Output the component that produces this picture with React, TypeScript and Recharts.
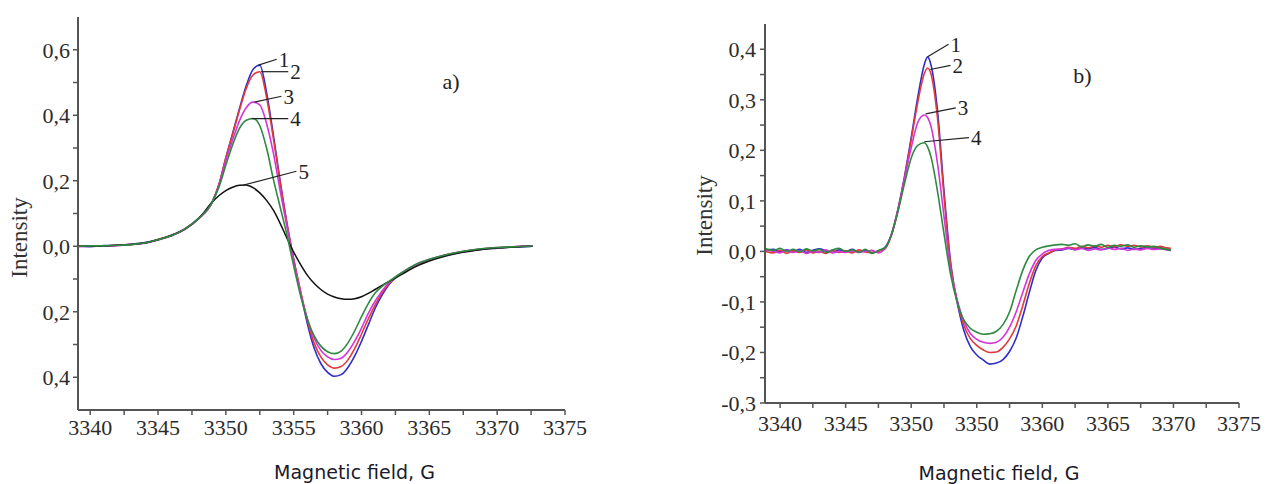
import React from 'react';
import { LineChart, Line, XAxis, YAxis, ReferenceLine, ReferenceDot, Label } from 'recharts';

// ---------- Panel a data ----------
const fieldA = [3339.1, 3340, 3341, 3342, 3343, 3344, 3345, 3346, 3347, 3348, 3349, 3349.5, 3350, 3350.5, 3351, 3351.5, 3352, 3352.5, 3353, 3353.5, 3354, 3354.5, 3355, 3355.5, 3356, 3356.5, 3357, 3357.5, 3358, 3358.5, 3359, 3359.5, 3360, 3360.5, 3361, 3361.5, 3362, 3363, 3364, 3365, 3366, 3367, 3368, 3369, 3370, 3371, 3372, 3372.6];
const a1 = [0.001, -0.001, 0.002, 0.003, 0.006, 0.011, 0.02, 0.034, 0.054, 0.086, 0.136, 0.19, 0.27, 0.345, 0.42, 0.49, 0.54, 0.553, 0.47, 0.34, 0.2, 0.07, -0.04, -0.14, -0.235, -0.31, -0.358, -0.385, -0.397, -0.392, -0.37, -0.335, -0.29, -0.24, -0.19, -0.15, -0.118, -0.082, -0.058, -0.042, -0.03, -0.021, -0.014, -0.009, -0.006, -0.003, -0.001, 0.0];
const a2 = [0.0, 0.001, 0.0, 0.004, 0.005, 0.01, 0.021, 0.033, 0.053, 0.085, 0.135, 0.19, 0.27, 0.342, 0.415, 0.482, 0.523, 0.533, 0.455, 0.33, 0.195, 0.07, -0.04, -0.135, -0.225, -0.295, -0.338, -0.362, -0.372, -0.367, -0.347, -0.312, -0.268, -0.222, -0.18, -0.143, -0.115, -0.081, -0.057, -0.041, -0.029, -0.02, -0.013, -0.008, -0.005, -0.002, 0.0, 0.001];
const a3 = [-0.001, 0.0, 0.001, 0.002, 0.006, 0.009, 0.019, 0.032, 0.052, 0.084, 0.134, 0.188, 0.262, 0.325, 0.383, 0.423, 0.44, 0.432, 0.375, 0.285, 0.17, 0.06, -0.045, -0.14, -0.22, -0.28, -0.318, -0.338, -0.346, -0.342, -0.322, -0.29, -0.25, -0.205, -0.168, -0.137, -0.112, -0.08, -0.056, -0.04, -0.028, -0.019, -0.012, -0.008, -0.004, -0.002, 0.001, 0.0];
const a4 = [0.0, 0.001, 0.001, 0.003, 0.005, 0.01, 0.02, 0.033, 0.053, 0.085, 0.135, 0.182, 0.248, 0.31, 0.36, 0.385, 0.39, 0.368, 0.3, 0.205, 0.12, 0.035, -0.06, -0.15, -0.222, -0.273, -0.305, -0.322, -0.328, -0.32, -0.295, -0.258, -0.215, -0.175, -0.143, -0.123, -0.108, -0.08, -0.056, -0.04, -0.028, -0.019, -0.012, -0.007, -0.004, -0.002, 0.0, 0.001];
const a5 = [0.0, 0.0, 0.001, 0.003, 0.005, 0.01, 0.02, 0.033, 0.053, 0.085, 0.135, 0.155, 0.17, 0.18, 0.186, 0.187, 0.179, 0.163, 0.14, 0.11, 0.07, 0.025, -0.018, -0.055, -0.088, -0.113, -0.132, -0.146, -0.155, -0.16, -0.162, -0.16, -0.154, -0.144, -0.132, -0.12, -0.108, -0.085, -0.062, -0.045, -0.032, -0.022, -0.015, -0.009, -0.005, -0.003, -0.001, 0.0];

// ---------- Panel b data ----------
const fieldB = [3338.9, 3339.5, 3340, 3340.5, 3341, 3341.5, 3342, 3342.5, 3343, 3343.5, 3344, 3344.5, 3345, 3345.5, 3346, 3346.5, 3347, 3347.5, 3348, 3348.5, 3349, 3349.5, 3350, 3350.5, 3351, 3351.25, 3351.5, 3352, 3352.5, 3353, 3353.5, 3354, 3354.5, 3355, 3355.5, 3356, 3356.5, 3357, 3357.5, 3358, 3358.5, 3359, 3359.5, 3360, 3360.5, 3361, 3361.5, 3362, 3362.5, 3363, 3363.5, 3364, 3364.5, 3365, 3365.5, 3366, 3366.5, 3367, 3367.5, 3368, 3368.5, 3369, 3369.5, 3369.8];
const b1 = [0.002, 0.004, -0.001, 0.003, 0.0, 0.004, -0.002, 0.002, 0.005, 0.001, -0.002, 0.003, 0.0, 0.004, -0.001, 0.002, -0.003, 0.001, 0.008, 0.035, 0.085, 0.15, 0.225, 0.305, 0.37, 0.385, 0.37, 0.28, 0.12, -0.02, -0.1, -0.155, -0.188, -0.205, -0.215, -0.223, -0.221, -0.214, -0.198, -0.172, -0.13, -0.082, -0.038, -0.013, -0.004, 0.002, 0.003, 0.006, 0.004, 0.007, 0.005, 0.008, 0.004, 0.006, 0.009, 0.005, 0.007, 0.004, 0.006, 0.008, 0.005, 0.007, 0.004, 0.003];
const b2 = [0.0, -0.003, 0.002, -0.004, 0.001, -0.002, 0.003, -0.003, 0.0, -0.004, 0.002, -0.002, 0.001, -0.003, 0.003, -0.001, -0.002, 0.0, 0.005, 0.033, 0.083, 0.147, 0.22, 0.295, 0.352, 0.363, 0.352, 0.265, 0.11, -0.025, -0.098, -0.145, -0.172, -0.186, -0.195, -0.2, -0.199, -0.19, -0.173, -0.148, -0.108, -0.064, -0.028, -0.01, -0.003, 0.003, 0.005, 0.008, 0.006, 0.01, 0.007, 0.011, 0.008, 0.012, 0.009, 0.013, 0.01, 0.012, 0.009, 0.011, 0.008, 0.01, 0.007, 0.006];
const b3 = [0.003, 0.0, -0.003, 0.002, -0.002, 0.001, -0.004, 0.0, -0.002, 0.003, -0.003, 0.0, -0.002, 0.001, -0.002, 0.0, 0.002, -0.003, 0.006, 0.033, 0.082, 0.145, 0.205, 0.255, 0.27, 0.265, 0.248, 0.175, 0.07, -0.035, -0.095, -0.137, -0.162, -0.174, -0.18, -0.182, -0.18, -0.17, -0.15, -0.12, -0.082, -0.045, -0.018, -0.005, 0.002, 0.004, 0.004, 0.007, 0.003, 0.006, 0.002, 0.005, 0.003, 0.007, 0.004, 0.006, 0.002, 0.005, 0.003, 0.006, 0.004, 0.005, 0.003, 0.002];
const b4 = [0.005, 0.002, 0.006, 0.0, 0.004, -0.001, 0.005, 0.001, 0.004, -0.002, 0.003, 0.006, 0.0, 0.003, -0.002, 0.004, -0.004, 0.002, 0.007, 0.033, 0.08, 0.135, 0.185, 0.21, 0.215, 0.207, 0.188, 0.12, 0.035, -0.045, -0.1, -0.135, -0.152, -0.16, -0.164, -0.163, -0.158, -0.145, -0.12, -0.078, -0.038, -0.01, 0.003, 0.008, 0.011, 0.013, 0.014, 0.012, 0.015, 0.009, 0.013, 0.01, 0.014, 0.008, 0.012, 0.01, 0.013, 0.008, 0.011, 0.009, 0.01, 0.006, 0.004, 0.002];

// ---------- Axis ticks & labels ----------
const xTicks = [3340, 3342.5, 3345, 3347.5, 3350, 3352.5, 3355, 3357.5, 3360, 3362.5, 3365, 3367.5, 3370, 3372.5, 3375];
const xMajor = [3340, 3345, 3350, 3355, 3360, 3365, 3370, 3375];
const xLabelsA = ['3340', '3345', '3350', '3355', '3360', '3365', '3370', '3375'];
const xLabelsB = ['3340', '3345', '3350', '3350', '3360', '3365', '3370', '3375'];

const yTicksA = [-0.4, -0.3, -0.2, -0.1, 0, 0.1, 0.2, 0.3, 0.4, 0.5, 0.6];
const yMajorA = [-0.4, -0.2, 0, 0.2, 0.4, 0.6];
const yLabelsA = ['0,4', '0,2', '0,0', '0,2', '0,4', '0,6'];

const yTicksB = [-0.3, -0.25, -0.2, -0.15, -0.1, -0.05, 0, 0.05, 0.1, 0.15, 0.2, 0.25, 0.3, 0.35, 0.4];
const yMajorB = [-0.3, -0.2, -0.1, 0, 0.1, 0.2, 0.3, 0.4];
const yLabelsB = ['-0,3', '-0,2', '-0,1', '0,0', '0,1', '0,2', '0,3', '0,4'];

// ---------- Curve annotations (data units) ----------
const curveNamesA = ['1', '2', '3', '4', '5'];
const leaderFromA = [[3352.4, 0.553], [3352.6, 0.533], [3352.1, 0.44], [3351.9, 0.39], [3351.3, 0.187]];
const leaderToA = [[3353.75, 0.571], [3354.6, 0.533], [3354.1, 0.458], [3354.6, 0.39], [3355.2, 0.229]];
const curveNamesB = ['1', '2', '3', '4'];
const leaderFromB = [[3351.25, 0.385], [3351.45, 0.36], [3351.1, 0.272], [3351.0, 0.217]];
const leaderToB = [[3352.85, 0.41], [3353.0, 0.368], [3353.4, 0.284], [3354.4, 0.225]];
const panelTagA = { text: 'a)', x: 3366.6, y: 0.504 };
const panelTagB = { text: 'b)', x: 3363.05, y: 0.349 };

const seriesColors = ['#2f2fc8', '#e03a3a', '#d335d8', '#111111', '#2e8a40'];

const rowsA = fieldA.map((x, i) => ({ x, s1: a1[i], s2: a2[i], s3: a3[i], s4: a4[i], s5: a5[i] }));
const rowsB = fieldB.map((x, i) => ({ x, s1: b1[i], s2: b2[i], s3: b3[i], s4: b4[i] }));

const SERIF = "'Liberation Serif', 'Times New Roman', serif";
const SANS = "'DejaVu Sans', Verdana, sans-serif";
const AXIS = '#555555';

const fmt = (major: number[], labels: string[]) => (v: number) => {
  const i = major.findIndex((m) => Math.abs(m - v) < 1e-6);
  return i >= 0 ? labels[i] : '';
};

const tickStyle = { fontFamily: SERIF, fontSize: 22, fill: '#2c2c2c' };

const xTitle = (dx: number, dy: number) => (p: any) => {
  const vb = p.viewBox || {};
  return (
    <text x={vb.x + vb.width / 2 + dx} y={vb.y + dy} textAnchor="middle" dominantBaseline="central"
      style={{ fontFamily: SANS, fontSize: 19, fill: '#1a1a2a' }}>Magnetic field, G</text>
  );
};

const yTitle = (dx: number, dy: number) => (p: any) => {
  const vb = p.viewBox || {};
  const cx = vb.x + dx;
  const cy = vb.y + vb.height / 2 + dy;
  return (
    <text x={cx} y={cy} transform={`rotate(-90, ${cx}, ${cy})`} textAnchor="middle" dominantBaseline="central"
      style={{ fontFamily: SERIF, fontSize: 23, fill: '#333333' }}>Intensity</text>
  );
};

const annotations = (names: string[], from: number[][], to: number[][]) =>
  names.flatMap((n, i) => [
    <ReferenceLine key={`l${n}`} segment={[{ x: from[i][0], y: from[i][1] }, { x: to[i][0], y: to[i][1] }]}
      stroke="#222" strokeWidth={1.2} ifOverflow="visible" />,
    <ReferenceDot key={`d${n}`} x={to[i][0]} y={to[i][1]} r={1} fill="none" stroke="none" ifOverflow="visible"
      label={{ value: n, position: 'right', offset: 1, fontFamily: SERIF, fontSize: 21, fill: '#222' }} />,
  ]);

export default function App() {
  return (
    <div style={{ position: 'absolute', left: 0, top: 0, width: 1266, height: 484, background: '#fff', overflow: 'hidden' }}>
      <div style={{ position: 'absolute', left: 0, top: 0 }}>
        <LineChart width={600} height={484} data={rowsA} margin={{ top: 17, right: 35, bottom: 0, left: 0 }}>
          <XAxis dataKey="x" type="number" domain={[3339.1, 3375]} allowDataOverflow ticks={xTicks} interval={0}
            tickFormatter={fmt(xMajor, xLabelsA)} height={74} tickSize={5} tickMargin={4}
            axisLine={{ stroke: AXIS, strokeWidth: 2 }} tickLine={{ stroke: AXIS, strokeWidth: 1.5 }} tick={tickStyle}>
            <Label content={xTitle(33, 62)} />
          </XAxis>
          <YAxis type="number" domain={[-0.5, 0.7]} allowDataOverflow ticks={yTicksA} interval={0}
            tickFormatter={fmt(yMajorA, yLabelsA)} width={78} tickSize={5} tickMargin={3}
            axisLine={{ stroke: AXIS, strokeWidth: 2 }} tickLine={{ stroke: AXIS, strokeWidth: 1.5 }} tick={tickStyle}>
            <Label content={yTitle(19, 24)} />
          </YAxis>
          <Line dataKey="s1" type="monotone" stroke={seriesColors[0]} strokeWidth={1.6} dot={false} isAnimationActive={false} />
          <Line dataKey="s2" type="monotone" stroke={seriesColors[1]} strokeWidth={1.6} dot={false} isAnimationActive={false} />
          <Line dataKey="s3" type="monotone" stroke={seriesColors[2]} strokeWidth={1.6} dot={false} isAnimationActive={false} />
          <Line dataKey="s5" type="monotone" stroke={seriesColors[3]} strokeWidth={1.5} dot={false} isAnimationActive={false} />
          <Line dataKey="s4" type="monotone" stroke={seriesColors[4]} strokeWidth={1.6} dot={false} isAnimationActive={false} />
          {annotations(curveNamesA, leaderFromA, leaderToA)}
          <ReferenceDot x={panelTagA.x} y={panelTagA.y} r={1} fill="none" stroke="none" ifOverflow="visible"
            label={{ value: panelTagA.text, position: 'center', fontFamily: SERIF, fontSize: 22, fill: '#222' }} />
        </LineChart>
      </div>
      <div style={{ position: 'absolute', left: 640, top: 0 }}>
        <LineChart width={626} height={484} data={rowsB} margin={{ top: 24, right: 27, bottom: 0, left: 0 }}>
          <XAxis dataKey="x" type="number" domain={[3338.85, 3375]} allowDataOverflow ticks={xTicks} interval={0}
            tickFormatter={fmt(xMajor, xLabelsB)} height={81} tickSize={5} tickMargin={7}
            axisLine={{ stroke: AXIS, strokeWidth: 2 }} tickLine={{ stroke: AXIS, strokeWidth: 1.5 }} tick={tickStyle}>
            <Label content={xTitle(-3, 70)} />
          </XAxis>
          <YAxis type="number" domain={[-0.3, 0.45]} allowDataOverflow ticks={yTicksB} interval={0}
            tickFormatter={fmt(yMajorB, yLabelsB)} width={125} tickSize={5} tickMargin={4}
            axisLine={{ stroke: AXIS, strokeWidth: 2 }} tickLine={{ stroke: AXIS, strokeWidth: 1.5 }} tick={tickStyle}>
            <Label content={yTitle(64, 2)} />
          </YAxis>
          <Line dataKey="s1" type="monotone" stroke={seriesColors[0]} strokeWidth={1.6} dot={false} isAnimationActive={false} />
          <Line dataKey="s2" type="monotone" stroke={seriesColors[1]} strokeWidth={1.6} dot={false} isAnimationActive={false} />
          <Line dataKey="s3" type="monotone" stroke={seriesColors[2]} strokeWidth={1.6} dot={false} isAnimationActive={false} />
          <Line dataKey="s4" type="monotone" stroke={seriesColors[4]} strokeWidth={1.6} dot={false} isAnimationActive={false} />
          {annotations(curveNamesB, leaderFromB, leaderToB)}
          <ReferenceDot x={panelTagB.x} y={panelTagB.y} r={1} fill="none" stroke="none" ifOverflow="visible"
            label={{ value: panelTagB.text, position: 'center', fontFamily: SERIF, fontSize: 22, fill: '#222' }} />
        </LineChart>
      </div>
    </div>
  );
}
